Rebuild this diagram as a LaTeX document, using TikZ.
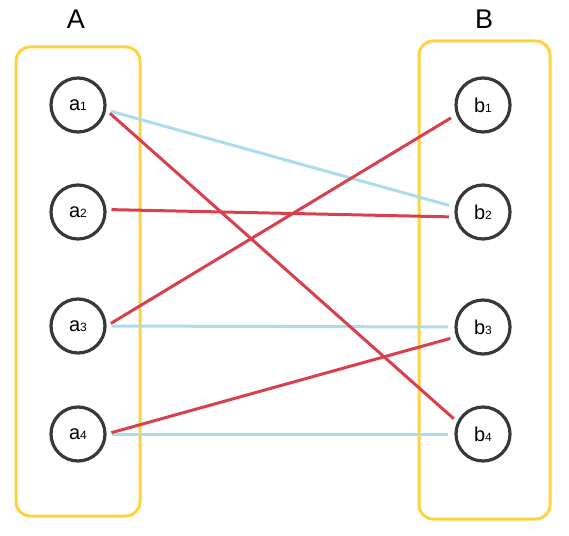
\documentclass[tikz,border=0pt]{standalone}
\usepackage{fontspec}
\setmainfont{Liberation Sans}
\usepackage{xcolor}
\usepackage{tikz}
\usetikzlibrary{positioning,arrows.meta,calc}
\definecolor{setline}{HTML}{FFD23F}
\definecolor{ring}{HTML}{383838}
\definecolor{mapA}{HTML}{ADDDEA}
\definecolor{mapB}{HTML}{D8404E}
\newcommand{\elem}[2]{#1{\fontsize{12}{12}\selectfont #2}}

\begin{document}
\begin{tikzpicture}[x=1pt,y=-1pt,every node/.style={text=black},
  grp/.style={draw=setline,line width=3pt,rounded corners=14pt},
  el/.style={circle,draw=ring,line width=3.2pt,minimum size=54pt,inner sep=0pt,font=\fontsize{20}{20}\selectfont},
  ttl/.style={font=\fontsize{27}{30}\selectfont},
  lb/.style={mapA,line width=3pt,shorten <=5pt,shorten >=6pt},
  lr/.style={mapB,line width=3pt,shorten <=5pt,shorten >=6pt}]
  \useasboundingbox (0,0) rectangle (569,535);
  % sets
  \draw[grp] (16,47) rectangle (140,516);
  \draw[grp] (419,41) rectangle (550,519);
  \node[ttl] (tA) at (76,19) {A};
  \node[ttl] (tB) at (484,19) {B};
  % elements
  \node[el] (a1) at (78,105) {\elem{a}{1}};
  \node[el] (a2) at (78,212) {\elem{a}{2}};
  \node[el] (a3) at (78,326) {\elem{a}{3}};
  \node[el] (a4) at (78,434) {\elem{a}{4}};
  \node[el] (b1) at (483,105) {\elem{b}{1}};
  \node[el] (b2) at (483,212) {\elem{b}{2}};
  \node[el] (b3) at (483,327) {\elem{b}{3}};
  \node[el] (b4) at (483,434) {\elem{b}{4}};
  % first map
  \draw[lb] (a1.-10) -- (b2.170);
  \draw[lb] (a3.east) -- (b3.west);
  \draw[lb] (a4.east) -- (b4.west);
  % second map
  \draw[lr] (a1.-10) -- ([yshift=-3pt]b4.150);
  \draw[lr] (a2.5) -- (b2.190);
  \draw[lr] (a3.east) -- (b1.200);
  \draw[lr] (a4.east) -- (b3.200);
\end{tikzpicture}
\end{document}
